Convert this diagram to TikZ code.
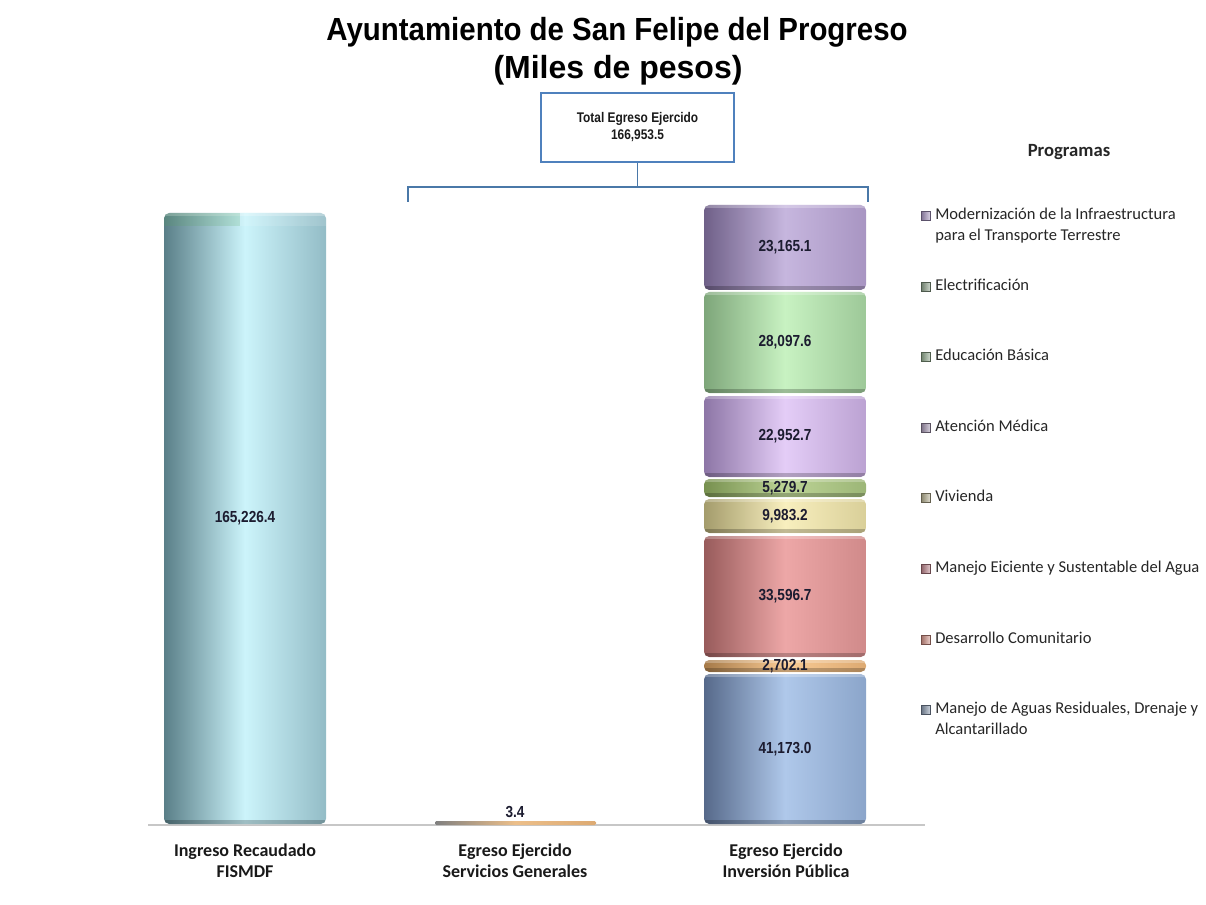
\documentclass[tikz,border=0pt]{standalone}
\usepackage{fontspec}
\setmainfont{Liberation Sans}
\newfontfamily\narrowfont[FakeStretch=0.85]{Liberation Sans}
\newfontfamily\titlenarrow[FakeStretch=0.92]{Liberation Sans}
\newfontfamily\califont{Carlito}
\definecolor{boxblue}{HTML}{4F81BD}
\definecolor{brkblue}{HTML}{4A78A8}
\definecolor{valtxt}{HTML}{1C1C30}
\definecolor{legtxt}{HTML}{262626}
\definecolor{cyD}{HTML}{5A7F88}\definecolor{cyM}{HTML}{CCF4FB}\definecolor{cyR}{HTML}{93BCC6}
\definecolor{puD}{HTML}{6F6088}\definecolor{puM}{HTML}{C6B6DE}\definecolor{puR}{HTML}{A895C2}
\definecolor{grD}{HTML}{7EA67A}\definecolor{grM}{HTML}{C8F2C2}\definecolor{grR}{HTML}{9DC898}
\definecolor{laD}{HTML}{8D76A6}\definecolor{laM}{HTML}{E4CDF7}\definecolor{laR}{HTML}{BBA2D2}
\definecolor{olD}{HTML}{77904F}\definecolor{olM}{HTML}{BDD496}\definecolor{olR}{HTML}{9CB677}
\definecolor{yeD}{HTML}{A49C6C}\definecolor{yeM}{HTML}{F8EFBE}\definecolor{yeR}{HTML}{D9CF99}
\definecolor{saD}{HTML}{985B5B}\definecolor{saM}{HTML}{EDA7A7}\definecolor{saR}{HTML}{D08A8A}
\definecolor{orD}{HTML}{A67A48}\definecolor{orM}{HTML}{F9CB95}\definecolor{orR}{HTML}{DDAA72}
\definecolor{blD}{HTML}{56698A}\definecolor{blM}{HTML}{AFC8EA}\definecolor{blR}{HTML}{8BA5CA}
\newcommand\cylseg[7]{%
  \shade[left color=#5, right color=#7, middle color=#6, rounded corners=4pt] (#1,#2) rectangle (#3,#4);
  \begin{scope}
    \clip[rounded corners=4pt] (#1,#2) rectangle (#3,#4);
    \fill[black,opacity=0.22] (#1,{#4-4}) rectangle (#3,#4);
    \fill[white,opacity=0.25] (#1,#2) rectangle (#3,{#2+3});
  \end{scope}}
\newcommand\legsq[2]{%
  \shade[left color=#2!75!black, right color=#2!45!white, draw=#2!55!black, line width=0.3pt] (921,{#1-4.5}) rectangle (930,{#1+4.5});}
\tikzset{
  vallab/.style={font=\narrowfont\bfseries\fontsize{12}{14}\selectfont, text=valtxt, inner sep=0pt},
  catlab/.style={font=\califont\bfseries\fontsize{13.5}{15.75}\selectfont, text=black!90, align=center, inner sep=0pt},
  legtext/.style={font=\califont\fontsize{12.4}{14}\selectfont, text=legtxt, anchor=west, inner sep=0pt, text height=8.5pt, text depth=2.7pt},
}
\begin{document}
\begin{tikzpicture}[x=0.75pt,y=-0.75pt]
\useasboundingbox (0,0) rectangle (1206,905);
% title
\node[font=\titlenarrow\bfseries\fontsize{24}{28}\selectfont, anchor=base, inner sep=0pt] (title1) at (617,41) {Ayuntamiento de San Felipe del Progreso};
\node[font=\bfseries\fontsize{24}{28}\selectfont, anchor=base, inner sep=0pt] (title2) at (618,79) {(Miles de pesos)};
% total box and bracket
\node[draw=boxblue, line width=1.5pt, minimum width=144.75pt, minimum height=51.75pt, align=center,
      font=\narrowfont\bfseries\fontsize{10.5}{12.75}\selectfont, text=black!90] (total) at (637.5,127.5) {Total Egreso Ejercido\\166,953.5};
\coordinate (bl) at (408,187);
\coordinate (br) at (868,187);
\coordinate (blt) at (408,202);
\coordinate (brt) at (868,202);
\draw[brkblue, line width=1.2pt] (blt) -- (bl) -- (br) -- (brt);
\draw[brkblue, line width=1.2pt] (total.south) -- (total.south |- bl);
% baseline
\draw[black!22, line width=1pt] (148,825) -- (925,825);
% left bar
\cylseg{164}{213}{326}{824}{cyD}{cyM}{cyR}
\begin{scope}
  \clip[rounded corners=4pt] (164,213) rectangle (326,824);
  \fill[green!30!gray, opacity=0.18] (164,213) rectangle (240,226);
  \fill[white, opacity=0.12] (240,213) rectangle (326,226);
\end{scope}
\node[vallab] (vleft) at (245,518.5) {165,226.4};
% middle bar
\shade[left color=black!50, right color=orR, middle color=orM!85!orD, rounded corners=1pt] (435,821) rectangle (596,825);
\node[vallab] (vmid) at (515,812) {3.4};
% right bar
\cylseg{704}{205}{866}{290}{puD}{puM}{puR}
\cylseg{704}{292}{866}{393}{grD}{grM}{grR}
\cylseg{704}{396}{866}{477}{laD}{laM}{laR}
\cylseg{704}{479}{866}{497}{olD}{olM}{olR}
\cylseg{704}{499}{866}{533}{yeD}{yeM}{yeR}
\cylseg{704}{536}{866}{657}{saD}{saM}{saR}
\cylseg{704}{660}{866}{672}{orD}{orM}{orR}
\cylseg{704}{674}{866}{824}{blD}{blM}{blR}
\node[vallab] (v1) at (785,247.5) {23,165.1};
\node[vallab] (v2) at (785,342.5) {28,097.6};
\node[vallab] (v3) at (785,436.5) {22,952.7};
\node[vallab] (v4) at (785,488) {5,279.7};
\node[vallab] (v5) at (785,516) {9,983.2};
\node[vallab] (v6) at (785,596.5) {33,596.7};
\node[vallab] (v7) at (785,666) {2,702.1};
\node[vallab] (v8) at (785,749) {41,173.0};
% categories
\node[catlab] (c1) at (245,860.5) {Ingreso Recaudado\\FISMDF};
\node[catlab] (c2) at (515,860.5) {Egreso Ejercido\\Servicios Generales};
\node[catlab] (c3) at (786,860.5) {Egreso Ejercido\\Inversión Pública};
% legend
\node[font=\califont\bfseries\fontsize{14}{16}\selectfont, text=legtxt, inner sep=0pt] (prog) at (1069,152) {Programas};
\legsq{216}{puR}
\node[legtext] (l1) at (935,216) {Modernización de la Infraestructura};
\node[legtext] (l1b) at (935,237) {para el Transporte Terrestre};
\legsq{287}{grR!50!gray}
\node[legtext] (l2) at (935,287) {Electrificación};
\legsq{357}{grR!60!gray}
\node[legtext] (l3) at (935,357) {Educación Básica};
\legsq{428}{laR!60!gray}
\node[legtext] (l4) at (935,428) {Atención Médica};
\legsq{498}{yeR!60!gray}
\node[legtext] (l5) at (935,498) {Vivienda};
\legsq{569}{saR!80!puD}
\node[legtext] (l6) at (935,569) {Manejo Eiciente y Sustentable del Agua};
\legsq{640}{saR!80!orR}
\node[legtext] (l7) at (935,640) {Desarrollo Comunitario};
\legsq{710}{blR!60!gray}
\node[legtext] (l8) at (935,710) {Manejo de Aguas Residuales, Drenaje y};
\node[legtext] (l8b) at (935,731) {Alcantarillado};
\end{tikzpicture}
\end{document}
